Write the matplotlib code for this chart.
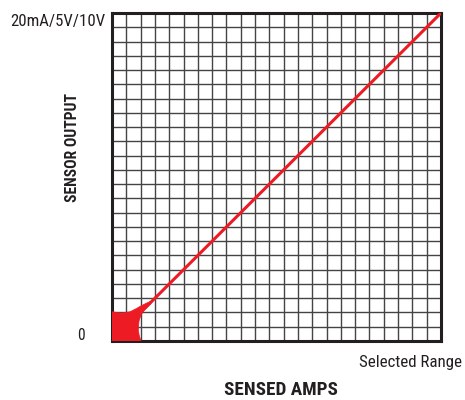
import matplotlib
matplotlib.use("Agg")
import matplotlib.pyplot as plt
from matplotlib.patches import Polygon
from matplotlib import font_manager as fm
import numpy as np

# ---- data ----
grid_divisions = 23                      # cells per axis
line_sensed = [0, 23]                    # sensed amps (cell units)
line_output = [0, 23]                    # sensor output (cell units)
blob_x = [0, 2.03, 1.9, 1.84, 1.89, 2.03, 2.26, 2.7, 2.85, 2.4, 2.0, 1.75, 1.26, 0.7, 0]
blob_y = [0, 0, 0.4, 0.8, 1.4, 1.82, 2.17, 2.6, 2.85, 2.65, 2.45, 2.3, 2.05, 1.95, 2.05]
y_tick_labels = ["0", "20mA/5V/10V"]
x_tick_label = "Selected Range"
x_title = "SENSED AMPS"
y_title = "SENSOR OUTPUT"

RED = "#ed1c24"
INK = "#231f20"


def find_font(bold):
    cands = []
    for f in fm.fontManager.ttflist:
        st = str(f.stretch).lower()
        cond = ("condensed" in st or "narrow" in f.name.lower()
                or "condensed" in f.name.lower()
                or (isinstance(f.stretch, (int, float)) and f.stretch < 500))
        if not cond:
            continue
        if f.style != "normal":
            continue
        w = f.weight if isinstance(f.weight, int) else (700 if "bold" in str(f.weight) else 400)
        if bold and w < 600:
            continue
        if not bold and not (350 <= w <= 500):
            continue
        cands.append(f)
    pref = ["Liberation Sans Narrow", "Roboto Condensed", "Open Sans Condensed",
            "Noto Sans", "DejaVu Sans", "Open Sans"]
    for p in pref:
        for f in cands:
            if f.name == p:
                return fm.FontProperties(fname=f.fname)
    if cands:
        return fm.FontProperties(fname=cands[0].fname)
    return fm.FontProperties(family="Roboto", weight="bold" if bold else "normal")


REG = find_font(False)
BOLD = find_font(True)

W, H = 465, 400
fig = plt.figure(figsize=(W / 100, H / 100), dpi=100)
ax = fig.add_axes([112 / W, 1 - 341 / H, (441 - 112) / W, (341 - 13) / H])
ax.set_xlim(0, grid_divisions)
ax.set_ylim(0, grid_divisions)
ticks = np.arange(0, grid_divisions + 1)
ax.set_xticks(ticks)
ax.set_yticks(ticks)
ax.tick_params(length=0, labelbottom=False, labelleft=False)
ax.grid(True, color="#444444", linewidth=1.0)
ax.set_axisbelow(True)
for s in ax.spines.values():
    s.set_color(INK)
    s.set_linewidth(2.2)

ax.plot(line_sensed, line_output, color=RED, linewidth=2.2, solid_capstyle="butt", zorder=3)
ax.add_patch(Polygon(np.column_stack([blob_x, blob_y]), closed=True,
                     facecolor=RED, edgecolor=RED, linewidth=0.5, zorder=3))


def px(x, y):
    return x / W, 1 - y / H


renderer = fig.canvas.get_renderer()


def fit_text(x, y, s, prop, target_len, max_size, **kw):
    t = fig.text(*px(x, y), s, fontproperties=prop.copy(), color=INK, **kw)
    size = max_size
    for _ in range(4):
        t.set_fontsize(size)
        bb = t.get_window_extent(renderer)
        length = bb.height if kw.get("rotation") == 90 else bb.width
        size = min(max_size, size * target_len / length)
    t.set_fontsize(size)
    return t


fit_text(105, 21.5, y_tick_labels[1], REG, 95, 14, ha="right", va="center")
fit_text(81, 336, y_tick_labels[0], REG, 7.7, 14, ha="center", va="center")
fit_text(462, 362.5, x_tick_label, REG, 102, 13, ha="right", va="center")
fit_text(281, 390, x_title, BOLD, 114, 14, ha="center", va="center")
fit_text(72, 148, y_title, BOLD, 109, 14, ha="center", va="center", rotation=90)

fig.savefig("out.png", dpi=100)
